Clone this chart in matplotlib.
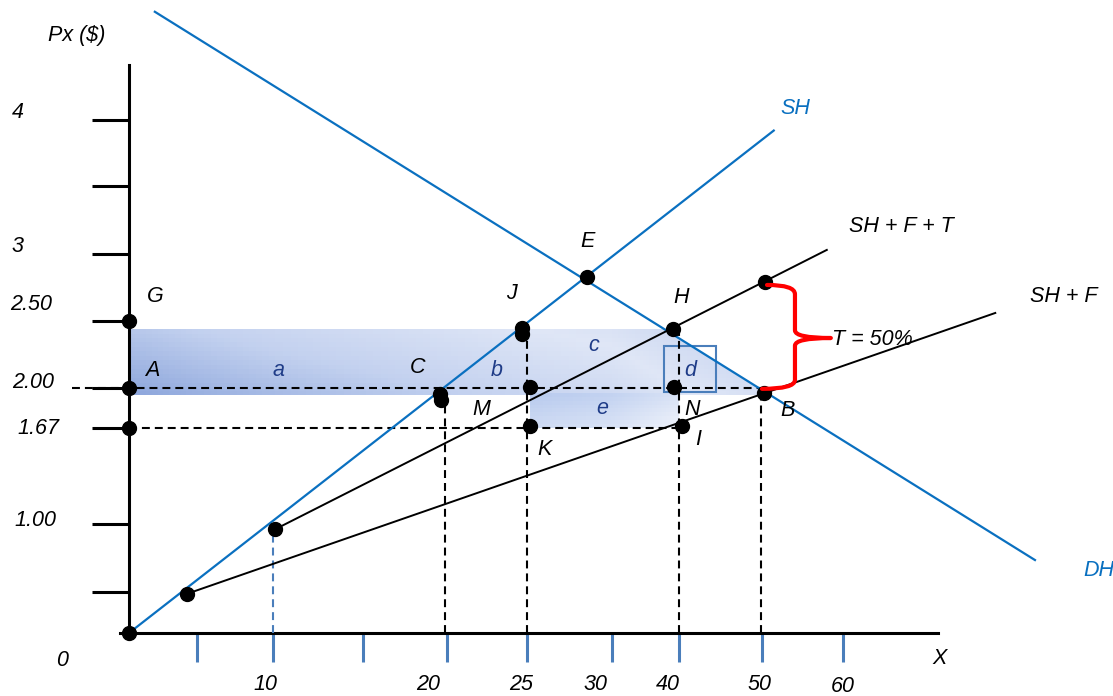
import numpy as np
import matplotlib
matplotlib.use("Agg")
import matplotlib.pyplot as plt
from matplotlib.patches import Polygon, Rectangle, PathPatch
from matplotlib.path import Path
from matplotlib.colors import LinearSegmentedColormap

plt.rcParams['font.family'] = ['Liberation Sans', 'DejaVu Sans']
plt.rcParams['font.style'] = 'italic'
plt.rcParams['font.size'] = 15.5

# --- data (quantity X, price Px) ---
# tick values on both axes
x_ticks = [5, 10, 15, 20, 25, 30, 40, 50, 60]
x_tick_labels = ['10', '20', '25', '30', '40', '50', '60']
x_label_vals = [10, 20, 25, 30, 40, 50, 60]
y_ticks = [0.5, 1.0, 1.67, 2.0, 2.5, 3.0, 3.5, 4.0]
y_tick_labels = ['4', '3', '2.50', '2.00', '1.67', '1.00']
y_label_vals = [4, 3, 2.5, 2.0, 1.67, 1.0]

# curves (two end points each)
sh_x, sh_y = [0, 51.45], [0, 3.92]
dh_x, dh_y = [1.9, 83.7], [4.82, 0.735]
shft_x, shft_y = [10.1, 58.0], [0.96, 3.03]
shf_x, shf_y = [4.3, 78.8], [0.48, 2.56]

# dots
dot_x = [0, 4.3, 10.1, 0, 0, 0, 19.6, 19.65, 24.7, 24.7, 25.2, 25.2,
         28.5, 39.1, 39.25, 40.4, 50.4, 50.25]
dot_y = [0, 0.48, 0.96, 2.5, 2.0, 1.67, 1.95, 1.90, 2.45, 2.40, 2.01, 1.69,
         2.83, 2.44, 2.01, 1.69, 2.79, 1.96]

# point labels: text, index of dot
pt_labels = ['G', 'A', 'C', 'J', 'M', 'K', 'E', 'H', 'N', 'I', 'B']
pt_index = [3, 4, 6, 8, 10, 11, 12, 13, 14, 15, 17]

# area labels
area_labels = ['a', 'b', 'c', 'd', 'e']
area_x = [10.3, 23.1, 28.9, 41.3, 29.4]
area_y = [2.13, 2.13, 2.32, 2.13, 1.83]

# dashed guides
hguide_y = [2.0, 1.67]
hguide_x0 = [-4.2, 0]
hguide_x1 = [50.25, 40.4]
vguide_x = [19.9, 25.0, 40.0, 49.9]
vguide_top = [1.92, 2.43, 2.44, 1.96]

# shaded areas
area1_x = [0, 39.5, 40.0, 50.25, 50.25, 0]
area1_y = [2.44, 2.44, 2.37, 1.97, 1.94, 1.94]
area2_x = [25.2, 40.0, 40.0, 25.2]
area2_y = [1.96, 1.96, 1.67, 1.67]

# --- layout: where tick values sit on the page (pixels) ---
x_anchor_vals = [0, 5, 10, 15, 20, 25, 30, 40, 50, 60]
x_anchor_px = [129, 197, 273, 363, 447, 527, 612, 679, 762, 843]
y_anchor_vals = [0, 0.5, 1.0, 1.67, 2.0, 2.5, 3.0, 3.5, 4.0]
y_anchor_px = [63, 104, 172, 268, 308, 375, 442, 510, 576]  # from bottom


def make_scale(vals, pos):
    vals = np.asarray(vals, float)
    pos = np.asarray(pos, float)
    s0 = (pos[1] - pos[0]) / (vals[1] - vals[0])
    s1 = (pos[-1] - pos[-2]) / (vals[-1] - vals[-2])

    def fwd(v):
        v = np.asarray(v, float)
        return np.where(v < vals[0], pos[0] + (v - vals[0]) * s0,
                        np.where(v > vals[-1], pos[-1] + (v - vals[-1]) * s1,
                                 np.interp(v, vals, pos)))

    def inv(p):
        p = np.asarray(p, float)
        return np.where(p < pos[0], vals[0] + (p - pos[0]) / s0,
                        np.where(p > pos[-1], vals[-1] + (p - pos[-1]) / s1,
                                 np.interp(p, pos, vals)))
    return fwd, inv


xf, xi = make_scale(x_anchor_vals, x_anchor_px)
yf, yi = make_scale(y_anchor_vals, y_anchor_px)

W, H = 1113, 696
fig = plt.figure(figsize=(W / 100, H / 100), dpi=100)
ax = fig.add_axes([120 / W, 63 / H, (938 - 120) / W, (633 - 65) / H])
ax.set_xscale('function', functions=(xf, xi))
ax.set_yscale('function', functions=(yf, yi))

blue = '#0a70c0'
tickblue = '#4a7ebb'
navy = '#1f3c88'

# shaded areas with gradient
cmap1 = LinearSegmentedColormap.from_list('g1', ['#8ea7dc', '#c3d1ef', '#dfe6f6', '#c6d3ef'])
poly1 = Polygon(np.column_stack([area1_x, area1_y]), closed=True,
                facecolor='none', edgecolor='none')
ax.add_patch(poly1)
gx = np.linspace(min(area1_x), max(area1_x), 120)
gy = np.linspace(min(area1_y), max(area1_y), 16)
tx, ty = np.meshgrid(np.linspace(0, 1, 119), np.linspace(0, 1, 15))
m1 = ax.pcolormesh(gx, gy, np.clip(0.8 * tx + 0.25 * ty, 0, 1), cmap=cmap1, vmin=0, vmax=1,
                   shading='flat', edgecolors='face', linewidth=0, zorder=1)
m1.set_clip_path(poly1)

cmap2 = LinearSegmentedColormap.from_list('g2', ['#b9cbee', '#edf1fa'])
poly2 = Polygon(np.column_stack([area2_x, area2_y]), closed=True,
                facecolor='none', edgecolor='none')
ax.add_patch(poly2)
gx2 = np.linspace(min(area2_x), max(area2_x), 60)
gy2 = np.linspace(min(area2_y), max(area2_y), 10)
tx2, ty2 = np.meshgrid(np.linspace(0, 1, 59), np.linspace(0, 1, 9))
m2 = ax.pcolormesh(gx2, gy2, 0.6 * tx2 + 0.4 * (1 - ty2), cmap=cmap2, vmin=0, vmax=1,
                   shading='flat', edgecolors='face', linewidth=0, zorder=1)
m2.set_clip_path(poly2)

# small square around d
ax.add_patch(Rectangle((37.8, 1.97), 6.7, 0.34, facecolor='none',
                       edgecolor=tickblue, lw=1.5, zorder=2))

# dashed guides
dash = (0, (3.8, 2.4))
for y, a, b in zip(hguide_y, hguide_x0, hguide_x1):
    ax.plot([a, b], [y, y], color='black', lw=1.5, ls=dash, clip_on=False, zorder=3)
for x, t in zip(vguide_x, vguide_top):
    ax.plot([x, x], [0, t], color='black', lw=1.5, ls=dash, zorder=3)
ax.plot([10, 10], [0, 0.96], color=tickblue, lw=1.5, ls=dash, zorder=3)

# curves
ax.plot(sh_x, sh_y, color=blue, lw=1.6, clip_on=False, zorder=4)
ax.plot(dh_x, dh_y, color=blue, lw=1.6, clip_on=False, zorder=4)
ax.plot(shft_x, shft_y, color='black', lw=1.4, clip_on=False, zorder=4)
ax.plot(shf_x, shf_y, color='black', lw=1.4, clip_on=False, zorder=4)

ax.plot(dot_x, dot_y, 'o', color='black', ms=10, clip_on=False, zorder=6)

# red brace for the tariff
bv = [(50.62, 2.769), (54.07, 2.769), (54.07, 2.70), (54.07, 2.43),
      (54.07, 2.373), (58.5, 2.373), (54.07, 2.373), (54.07, 2.316),
      (54.07, 2.06), (54.07, 1.993), (50.0, 1.993)]
bc = [Path.MOVETO, Path.CURVE3, Path.CURVE3, Path.LINETO, Path.CURVE3, Path.CURVE3,
      Path.CURVE3, Path.CURVE3, Path.LINETO, Path.CURVE3, Path.CURVE3]
ax.add_patch(PathPatch(Path(bv, bc), facecolor='none', edgecolor='#ff0000',
                       lw=3, capstyle='round', joinstyle='round', clip_on=False, zorder=7))

# axes
for s in ['top', 'right']:
    ax.spines[s].set_visible(False)
ax.spines['left'].set_position(('data', 0))
ax.spines['left'].set_linewidth(2.2)
ax.spines['bottom'].set_linewidth(2.2)
ax.set_xticks(x_ticks)
ax.set_xticklabels([])
ax.set_yticks(y_ticks)
ax.set_yticklabels([])
ax.minorticks_off()
ax.tick_params(axis='x', direction='out', length=21, width=2.2, color=tickblue)
ax.tick_params(axis='y', direction='out', length=26.5, width=2.2, color='black')
ax.set_xlim(float(xi(120)), float(xi(938)))
ax.set_ylim(float(yi(63)), float(yi(631)))

# tick labels
x_dx = [-8, -19, -6, -17, -11, -2, 0]
x_dy = [-52, -52, -52, -52, -52, -52, -53]
for t, v, dx, dy in zip(x_tick_labels, x_label_vals, x_dx, x_dy):
    ax.annotate(t, xy=(v, 0), xytext=(dx, dy), textcoords='offset pixels',
                ha='center', va='center', annotation_clip=False)
y_left = [12, 12, 10, 12, 17, 14]
y_dy = [7, 7, 16, 6, 0, 4]
for t, v, lx, dy in zip(y_tick_labels, y_label_vals, y_left, y_dy):
    ax.annotate(t, xy=(0, v), xytext=(lx - 129, dy), textcoords='offset pixels',
                ha='left', va='center', annotation_clip=False)
ax.annotate('0', xy=(0, 0), xytext=(-67, -27), textcoords='offset pixels',
            ha='center', va='center', annotation_clip=False)
ax.annotate('Px ($)', xy=(0, 1), xycoords=('data', 'axes fraction'), xytext=(-52, 30),
            textcoords='offset pixels', ha='center', va='center', annotation_clip=False)
ax.annotate('X', xy=(1, 0), xycoords='axes fraction', xytext=(2, -25),
            textcoords='offset pixels', ha='center', va='center', annotation_clip=False)

# point labels
pt_off = [(26, 24), (23, 17), (-23, 27), (-11, 34), (-49, -23), (14, -24),
          (1, 35), (8, 32), (18, -23), (16, -14), (24, -18)]
for t, i, off in zip(pt_labels, pt_index, pt_off):
    ax.annotate(t, xy=(dot_x[i], dot_y[i]), xytext=off, textcoords='offset pixels',
                ha='center', va='center', annotation_clip=False, zorder=8)

for t, x, y in zip(area_labels, area_x, area_y):
    ax.text(x, y, t, color=navy, ha='center', va='center', zorder=8)

# curve labels
ax.annotate('SH', xy=(sh_x[1], sh_y[1]), xytext=(22, 22), textcoords='offset pixels',
            color=blue, ha='center', va='center', annotation_clip=False)
ax.annotate('DH', xy=(dh_x[1], dh_y[1]), xytext=(48, -10), textcoords='offset pixels',
            color=blue, ha='left', va='center', annotation_clip=False)
ax.annotate('SH + F + T', xy=(shft_x[1], shft_y[1]), xytext=(75, 23),
            textcoords='offset pixels', ha='center', va='center', annotation_clip=False)
ax.annotate('SH + F', xy=(shf_x[1], shf_y[1]), xytext=(68, 16),
            textcoords='offset pixels', ha='center', va='center', annotation_clip=False)
ax.annotate('T = 50%', xy=(58.5, 2.373), xytext=(1, -1), textcoords='offset pixels',
            ha='left', va='center', annotation_clip=False, zorder=8)

fig.savefig('out.png', dpi=100)
